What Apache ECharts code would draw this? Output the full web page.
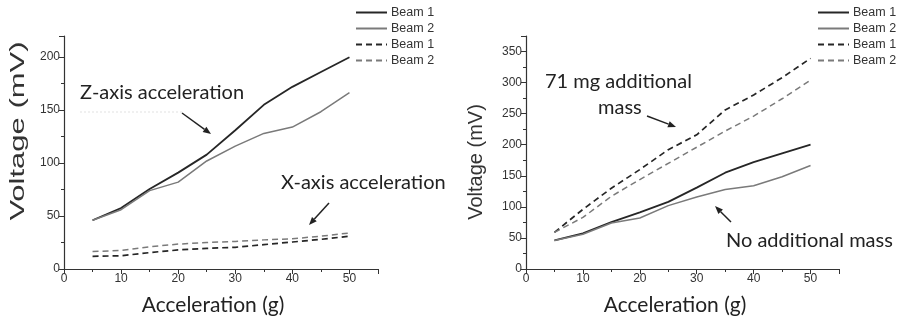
<!DOCTYPE html>
<html>
<head>
<meta charset="utf-8">
<script src="https://cdn.jsdelivr.net/npm/echarts@6/dist/echarts.min.js"></script>
<style>
  html, body { margin: 0; padding: 0; background: #fff; }
  #chart { width: 903px; height: 321px; }
</style>
</head>
<body>
<div id="chart"></div>
<script>
// acceleration steps (g)
const accel = [5, 10, 15, 20, 25, 30, 35, 40, 45, 50];

// left panel: Z-axis vs X-axis excitation (mV)
const zBeam1 = [46, 57.5, 75.5, 91, 108, 131, 155, 172, 186, 200];
const zBeam2 = [46, 56, 74, 82, 102, 116, 128, 134, 148.5, 166.5];
const xBeam1 = [12, 12.5, 15.5, 18, 19.5, 20.5, 23, 25.5, 28, 31];
const xBeam2 = [16.5, 17.5, 21, 23.5, 25, 26, 27.5, 28.5, 31, 34];

// right panel: with 71 mg extra mass (mV)
const massBeam1 = [59, 96, 130, 160, 192, 216, 256, 280, 308, 339];
const massBeam2 = [59, 83, 117, 144, 170, 196, 222, 246, 274, 304];

const legendNames = { z1: 'Beam 1', z2: 'Beam 2', x1: 'Beam 1', x2: 'Beam 2',
                      n1: 'Beam 1', n2: 'Beam 2', m1: 'Beam 1', m2: 'Beam 2' };

const DARK = '#262626';
const GRAY = '#7a7a7a';
const LABEL_FONT = 'Liberation Sans';
const NOTE_FONT = 'Lato';

const pairs = (vals) => accel.map((a, i) => [a, vals[i]]);

function line(id, vals, idx, color, dashed, width) {
  return {
    name: id,
    type: 'line',
    xAxisIndex: idx,
    yAxisIndex: idx,
    symbol: 'none',
    silent: true,
    data: pairs(vals),
    lineStyle: { color: color, width: width, type: dashed ? [6, 4] : 'solid' },
    itemStyle: { color: color },
  };
}

const axisCommon = {
  type: 'value',
  axisLine: { show: true, onZero: false, lineStyle: { color: '#333', width: 1.2 } },
  axisTick: { show: true, inside: false, length: 5, lineStyle: { color: '#333' } },
  minorTick: { show: true, splitNumber: 2, length: 3, lineStyle: { color: '#333' } },
  splitLine: { show: false },
  axisLabel: { color: '#333', fontSize: 12, fontFamily: LABEL_FONT, margin: 4, showMaxLabel: false },
};

function legend(left, data) {
  return {
    orient: 'vertical',
    left: left,
    top: 6,
    padding: 0,
    itemWidth: 31,
    itemHeight: 12,
    itemGap: 3,
    selectedMode: false,
    data: data,
    formatter: (n) => legendNames[n],
    itemStyle: { opacity: 0 },
    textStyle: { color: '#333', fontSize: 12.5, fontFamily: LABEL_FONT, padding: [0, 0, 0, -1] },
  };
}

function arrow(x1, y1, x2, y2) {
  const a = Math.atan2(y2 - y1, x2 - x1);
  const L = 8, W = 3.2;
  const bx = x2 - L * Math.cos(a), by = y2 - L * Math.sin(a);
  return [
    { type: 'line', shape: { x1: x1, y1: y1, x2: bx, y2: by }, style: { stroke: '#222', lineWidth: 1.5 } },
    {
      type: 'polygon',
      shape: { points: [[x2, y2], [bx + W * Math.sin(a), by - W * Math.cos(a)], [bx - W * Math.sin(a), by + W * Math.cos(a)]] },
      style: { fill: '#222' },
    },
  ];
}

function note(text, x, y, size, align) {
  return {
    type: 'text', x: x, y: y,
    style: { text: text, font: size + 'px "' + NOTE_FONT + '"', fill: '#222', textAlign: align || 'left', textVerticalAlign: 'middle' },
  };
}

const option = {
  animation: false,
  backgroundColor: '#fff',
  grid: [
    { left: 64, top: 36, width: 314, height: 233 },
    { left: 526, top: 36, width: 313, height: 233 },
  ],
  xAxis: [
    { ...axisCommon, gridIndex: 0, min: 0, max: 55, interval: 10 },
    { ...axisCommon, gridIndex: 1, min: 0, max: 55, interval: 10 },
  ],
  yAxis: [
    { ...axisCommon, gridIndex: 0, min: 0, max: 220, interval: 50 },
    { ...axisCommon, gridIndex: 1, min: 0, max: 375, interval: 50 },
  ],
  legend: [
    legend(355, ['z1', 'z2', 'x1', 'x2']),
    legend(817, ['n1', 'n2', 'm1', 'm2']),
  ],
  series: [
    line('z1', zBeam1, 0, DARK, false, 1.8),
    line('z2', zBeam2, 0, GRAY, false, 1.5),
    line('x1', xBeam1, 0, DARK, true, 1.7),
    line('x2', xBeam2, 0, GRAY, true, 1.5),
    line('n1', zBeam1, 1, DARK, false, 1.8),
    line('n2', zBeam2, 1, GRAY, false, 1.5),
    line('m1', massBeam1, 1, DARK, true, 1.7),
    line('m2', massBeam2, 1, GRAY, true, 1.5),
  ],
  graphic: [
    // axis titles
    {
      type: 'text', x: 18, y: 131, rotation: Math.PI / 2, scaleX: 1.55,
      style: { text: 'Voltage (mV)', font: '20px "' + LABEL_FONT + '"', fill: '#333', textAlign: 'center', textVerticalAlign: 'middle' },
    },
    {
      type: 'text', x: 476, y: 162, rotation: Math.PI / 2,
      style: { text: 'Voltage (mV)', font: '20px "' + LABEL_FONT + '"', fill: '#333', textAlign: 'center', textVerticalAlign: 'middle' },
    },
    note('Acceleration (g)', 213, 305, 21, 'center'),
    note('Acceleration (g)', 675, 305, 21, 'center'),
    // annotations
    note('Z-axis acceleration', 80, 93, 20),
    { type: 'line', shape: { x1: 80, y1: 112, x2: 182, y2: 112 }, style: { stroke: '#e2e2e2', lineWidth: 1, lineDash: [2, 2] } },
    ...arrow(182, 113, 211, 134),
    note('X-axis acceleration', 281, 183, 20),
    ...arrow(329, 203, 309, 225),
    note('71 mg additional', 545, 82, 20),
    note('mass', 598, 108, 20),
    ...arrow(647, 116, 676, 127),
    note('No additional mass', 726, 241, 20),
    ...arrow(731, 222, 715, 206),
  ],
};

const chart = echarts.init(document.getElementById('chart'), null, { renderer: 'canvas' });
chart.setOption(option);
</script>
</body>
</html>
